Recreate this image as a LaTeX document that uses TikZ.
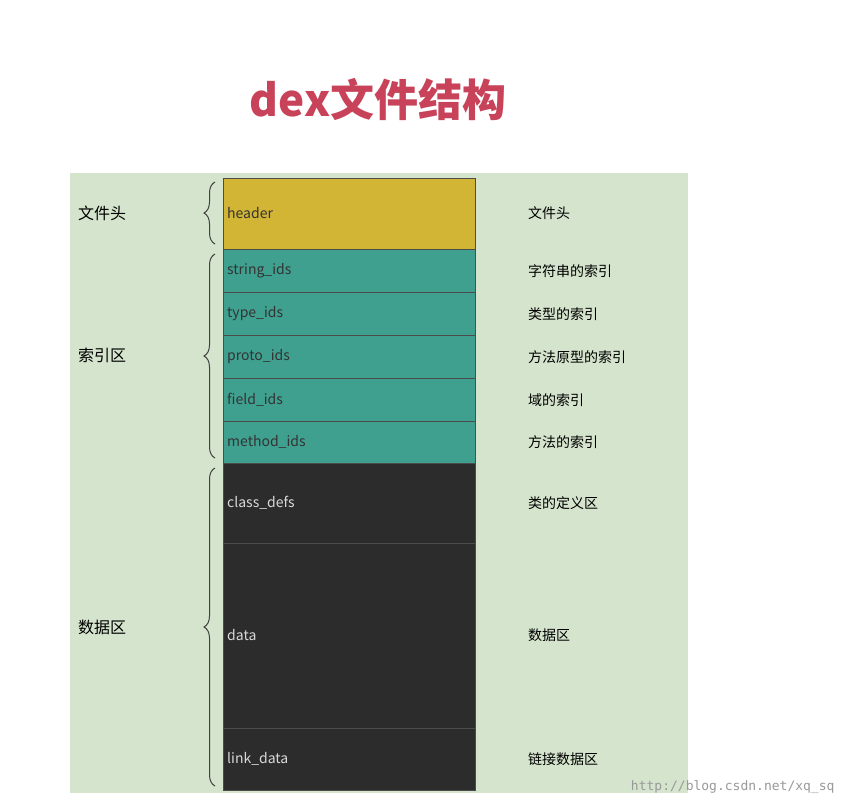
\documentclass[tikz,border=0pt]{standalone}
\usepackage{fontspec}
\setmainfont{Noto Sans CJK SC}
\setmonofont{DejaVu Sans Mono}
\usetikzlibrary{decorations.pathreplacing}
\definecolor{bgg}{HTML}{D5E4CC}
\definecolor{hdr}{HTML}{D3B535}
\definecolor{teal}{HTML}{3FA08F}
\definecolor{dark}{HTML}{2C2C2C}
\definecolor{ttl}{HTML}{C8435A}
\tikzset{
 blk/.style={draw=black!70,line width=0.8pt},
 lab/.style={anchor=west,font=\fontsize{14}{16}\selectfont,inner sep=0pt},
 brc/.style={decorate,decoration={brace,amplitude=11pt},line width=1pt,draw=black!75}
}
\begin{document}
\begin{tikzpicture}[x=1pt,y=-1pt]
\useasboundingbox (0,0) rectangle (848,806);
\fill[white] (0,0) rectangle (848,806);
\node[font=\fontsize{44}{50}\selectfont\bfseries,text=ttl] (title) at (378,100) {dex文件结构};
\fill[bgg] (70,173) rectangle (688,793);
\fill[hdr,blk] (223,178) rectangle (475,249);
\foreach \a/\b in {249/292,292/335,335/378,378/421,421/463}{\fill[teal,blk] (223,\a) rectangle (475,\b);}
\foreach \a/\b in {463/543,543/728,728/790}{\fill[dark,blk] (223,\a) rectangle (475,\b);}
\node[lab,text=black!80] (h) at (227,213) {header};
\node[lab,text=black!80] (s) at (227,271) {string\_ids};
\node[lab,text=black!80] (t) at (227,314) {type\_ids};
\node[lab,text=black!80] (p) at (227,357) {proto\_ids};
\node[lab,text=black!80] (f) at (227,400) {field\_ids};
\node[lab,text=black!80] (m) at (227,442) {method\_ids};
\node[lab,text=black!15] (c) at (227,503) {class\_defs};
\node[lab,text=black!15] (d) at (227,635) {data};
\node[lab,text=black!15] (l) at (227,759) {link\_data};
\node[lab] (r1) at (528,213) {文件头};
\node[lab] (r2) at (528,271) {字符串的索引};
\node[lab] (r3) at (528,314) {类型的索引};
\node[lab] (r4) at (528,357) {方法原型的索引};
\node[lab] (r5) at (528,400) {域的索引};
\node[lab] (r6) at (528,442) {方法的索引};
\node[lab] (r7) at (528,503) {类的定义区};
\node[lab] (r8) at (528,635) {数据区};
\node[lab] (r9) at (528,759) {链接数据区};
\node[lab,font=\fontsize{16}{18}\selectfont] (L1) at (78,213) {文件头};
\node[lab,font=\fontsize{16}{18}\selectfont] (L2) at (78,355) {索引区};
\node[lab,font=\fontsize{16}{18}\selectfont] (L3) at (78,627) {数据区};
\draw[brc] (215,244) -- (215,182);
\draw[brc] (215,458) -- (215,254);
\draw[brc] (215,786) -- (215,468);
\node[anchor=east,font=\ttfamily\fontsize{13}{15}\selectfont,text=black!40] (wm) at (838,787) {http://blog.csdn.net/xq\_sq};
\end{tikzpicture}
\end{document}
